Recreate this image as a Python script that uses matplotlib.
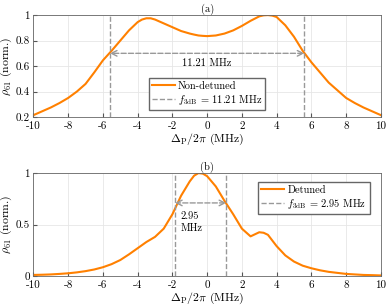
import matplotlib
matplotlib.use("Agg")
from matplotlib import pyplot as plt
import numpy as np

plt.rcParams['font.family'] = 'serif'
plt.rcParams['font.serif'] = ['cmr10', 'DejaVu Serif']
plt.rcParams['mathtext.fontset'] = 'cm'
plt.rcParams['axes.unicode_minus'] = False

# detuning axis (MHz)
x = [-10, -9.5, -9, -8.5, -8, -7.5, -7, -6.5, -6, -5.5, -5, -4.5, -4, -3.75, -3.5, -3.25, -3, -2.5, -2,
     -1.5, -1, -0.75, -0.5, -0.25, 0, 0.5, 1, 1.5, 2, 2.5, 3, 3.25, 3.5, 3.75, 4, 4.5, 5, 5.5, 6, 6.5,
     7, 7.5, 8, 8.5, 9, 9.5, 10]

# (a) non-detuned
rho_a = [0.215, 0.245, 0.275, 0.31, 0.35, 0.40, 0.46, 0.55, 0.645, 0.72, 0.80, 0.88, 0.945, 0.965, 0.975,
         0.975, 0.965, 0.935, 0.905, 0.875, 0.855, 0.847, 0.84, 0.837, 0.835, 0.84, 0.855, 0.88, 0.915,
         0.955, 0.99, 0.998, 1.0, 0.996, 0.985, 0.92, 0.83, 0.72, 0.63, 0.55, 0.47, 0.41, 0.35, 0.31,
         0.275, 0.245, 0.215]

# (b) detuned
rho_b = [0.01, 0.012, 0.015, 0.02, 0.026, 0.035, 0.047, 0.063, 0.085, 0.115, 0.155, 0.21, 0.27, 0.30, 0.33,
         0.355, 0.38, 0.46, 0.6, 0.78, 0.92, 0.975, 1.0, 0.995, 0.97, 0.87, 0.73, 0.6, 0.46, 0.385, 0.425,
         0.42, 0.40, 0.345, 0.29, 0.2, 0.14, 0.1, 0.075, 0.055, 0.04, 0.03, 0.02, 0.015, 0.01, 0.008, 0.005]

xticks = [-10, -8, -6, -4, -2, 0, 2, 4, 6, 8, 10]
xticklabels = ['-10', '-8', '-6', '-4', '-2', '0', '2', '4', '6', '8', '10']

f3db_a = [-5.6, 5.6]
f3db_b = [-1.85, 1.1]
bw_a = 11.21
bw_b = 2.95

orange = '#FF8000'
gray = '#999999'
fs = 7.5

fig = plt.figure(figsize=(3.89, 3.08), dpi=100)
ax1 = fig.add_axes([0.086, 0.620, 0.893, 0.331])
ax2 = fig.add_axes([0.086, 0.104, 0.893, 0.334])


def style(ax):
    ax.set_xlim(-10, 10)
    ax.set_xticks(xticks)
    ax.set_xticklabels(xticklabels)
    ax.grid(True, color='#e6e6e6', linewidth=0.6)
    ax.set_axisbelow(True)
    ax.tick_params(direction='in', labelsize=fs + 0.5, length=3, color='#555555', pad=2.5)
    ax.tick_params(axis='x', pad=3.5)
    for s in ax.spines.values():
        s.set_color('#666666')
        s.set_linewidth(0.6)
    ax.set_xlabel(r'$\Delta_\mathrm{P}/2\pi$ (MHz)', fontsize=fs + 1, labelpad=0)
    ax.set_ylabel(r'$\rho_{61}$ (norm.)', fontsize=fs + 1, labelpad=1)


# panel (a)
ax1.plot(x, rho_a, color=orange, linewidth=1.5, label='Non-detuned')
for i, f in enumerate(f3db_a):
    ax1.axvline(f, color=gray, linestyle='--', linewidth=1,
                label=r'$f_\mathrm{3dB}$ = %.2f MHz' % bw_a if i == 0 else None)
ax1.annotate('', xy=(f3db_a[0], 0.70), xytext=(f3db_a[1], 0.70),
             arrowprops=dict(arrowstyle='<->', color=gray, linestyle='--', linewidth=1, shrinkA=0, shrinkB=0))
ax1.text(0, 0.62, '%.2f MHz' % bw_a, ha='center', va='center', fontsize=fs)
ax1.set_ylim(0.2, 1)
ax1.set_yticks([0.2, 0.4, 0.6, 0.8, 1])
ax1.set_yticklabels(['0.2', '0.4', '0.6', '0.8', '1'])
style(ax1)
ax1.set_title('(a)', fontsize=fs, pad=2)
ax1.legend(loc='lower center', bbox_to_anchor=(0.5, 0.07), fontsize=fs, fancybox=False,
           edgecolor='#666666', framealpha=1, handlelength=2.2, borderpad=0.3, labelspacing=0.2,
           handletextpad=0.3, borderaxespad=0)

# panel (b)
ax2.plot(x, rho_b, color=orange, linewidth=1.5, label='Detuned')
for i, f in enumerate(f3db_b):
    ax2.axvline(f, color=gray, linestyle='--', linewidth=1,
                label=r'$f_\mathrm{3dB}$ = %.2f MHz' % bw_b if i == 0 else None)
ax2.annotate('', xy=(f3db_b[0], 0.71), xytext=(f3db_b[1], 0.71),
             arrowprops=dict(arrowstyle='<->', color=gray, linestyle='--', linewidth=1, shrinkA=0, shrinkB=0))
ax2.text(-1.55, 0.52, '%.2f\nMHz' % bw_b, ha='left', va='center', fontsize=fs, linespacing=1.3)
ax2.set_ylim(0, 1)
ax2.set_yticks([0, 0.5, 1])
ax2.set_yticklabels(['0', '0.5', '1'])
style(ax2)
ax2.set_title('(b)', fontsize=fs, pad=2)
ax2.legend(loc='upper right', bbox_to_anchor=(0.968, 0.913), fontsize=fs, fancybox=False,
           edgecolor='#666666', framealpha=1, handlelength=2.2, borderpad=0.3, labelspacing=0.2,
           handletextpad=0.3, borderaxespad=0)

fig.savefig('out.png', dpi=100)
